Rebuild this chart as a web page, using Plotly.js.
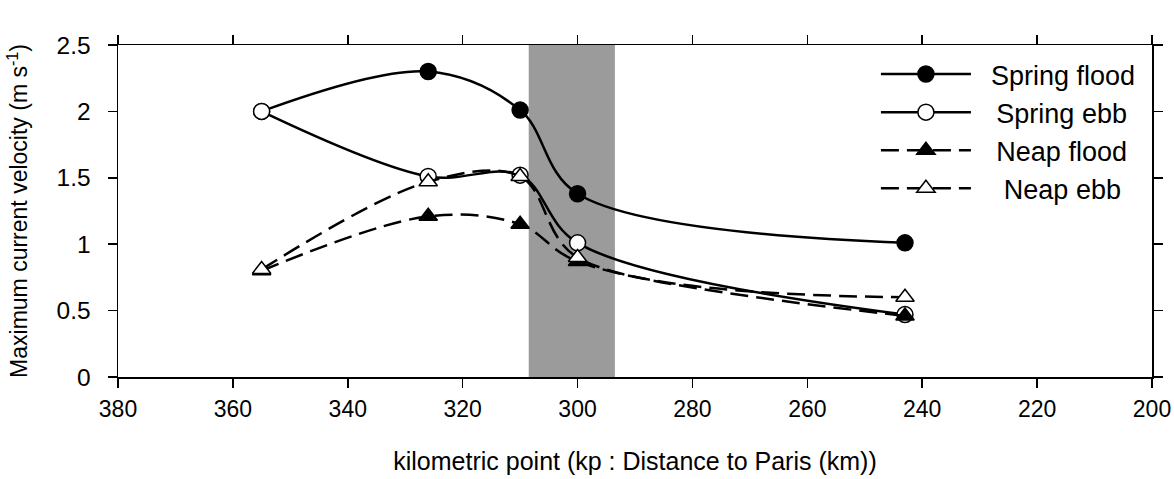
<!DOCTYPE html>
<html><head><meta charset="utf-8">
<script src="https://cdn.plot.ly/plotly-3.0.1.min.js"></script>
<style>html,body{margin:0;padding:0;background:#fff}</style>
</head><body><div id="chart" style="width:1174px;height:479px"></div>
<script>
const kp = [355, 326, 310, 300, 243];
const springFlood = [2.0, 2.30, 2.01, 1.38, 1.01];
const springEbb = [2.0, 1.51, 1.52, 1.01, 0.47];
const neapFlood = [0.80, 1.21, 1.15, 0.87, 0.46];
const neapEbb = [0.81, 1.47, 1.51, 0.90, 0.60];
const seriesNames = ['\u00A0\u00A0Spring flood', '\u00A0\u00A0\u2009Spring ebb', '\u00A0\u00A0\u2009Neap flood', '\u00A0\u00A0\u00A0\u2009Neap ebb'];
const bandStart = 308.5, bandEnd = 293.5;
const xTicks = [380, 360, 340, 320, 300, 280, 260, 240, 220, 200];
const yTicks = [0, 0.5, 1, 1.5, 2, 2.5];
const yTickText = ['0', '0.5', '1', '1.5', '2', '2.5'];

const fam = 'Liberation Sans, Arial, sans-serif';
function f(size) { return {family: fam, size: size, color: '#000'}; }
function tr(name, y, dash, sym, fill, rank) {
  return {
    x: kp, y: y, name: name, type: 'scatter', mode: 'lines+markers', legendrank: rank,
    line: {color: '#000', width: 2.5, dash: dash, shape: 'spline', smoothing: 1},
    marker: {symbol: sym, size: 16, color: fill, line: {color: '#000', width: 1.5}}
  };
}
const data = [
  tr(seriesNames[0], springFlood, 'solid', 'circle', '#000', 1),
  tr(seriesNames[1], springEbb, 'solid', 'circle', '#fff', 2),
  tr(seriesNames[2], neapFlood, '18px,8px', 'triangle-up', '#000', 3),
  tr(seriesNames[3], neapEbb, '18px,8px', 'triangle-up', '#fff', 4)
];
const layout = {
  width: 1174, height: 479,
  margin: {l: 118, r: 22, t: 45, b: 102},
  paper_bgcolor: '#fff', plot_bgcolor: '#fff',
  font: f(20),
  showlegend: true,
  legend: {x: 0.733, y: 0.985, xanchor: 'left', yanchor: 'top', bgcolor: 'rgba(0,0,0,0)',
    font: f(27), traceorder: 'normal', itemwidth: 90, tracegroupgap: 0},
  xaxis: {range: [380, 200], tickvals: xTicks, ticktext: xTicks.map(String),
    showgrid: false, zeroline: false, showline: true, linecolor: '#000', linewidth: 1.5,
    mirror: 'allticks', ticks: 'outside', ticklen: 9, tickwidth: 1.5, tickcolor: '#000',
    tickfont: f(23), ticklabelstandoff: 2,
    title: {text: 'kilometric point (kp : Distance to Paris (km))', font: f(25), standoff: 31}},
  yaxis: {range: [0, 2.5], tickvals: yTicks, ticktext: yTickText,
    showgrid: false, zeroline: false, showline: true, linecolor: '#000', linewidth: 1.5,
    mirror: 'allticks', ticks: 'outside', ticklen: 9, tickwidth: 1.5, tickcolor: '#000',
    tickfont: f(24.5), ticklabelstandoff: 12,
    title: {text: 'Maximum current velocity (m s<sup>-1</sup>)', font: f(23), standoff: 22}},
  shapes: [{type: 'rect', xref: 'x', yref: 'paper', x0: bandStart, x1: bandEnd, y0: 0, y1: 1,
    fillcolor: '#9b9b9b', line: {width: 0}, layer: 'below'}]
};
Plotly.newPlot('chart', data, layout, {staticPlot: true});
</script></body></html>
